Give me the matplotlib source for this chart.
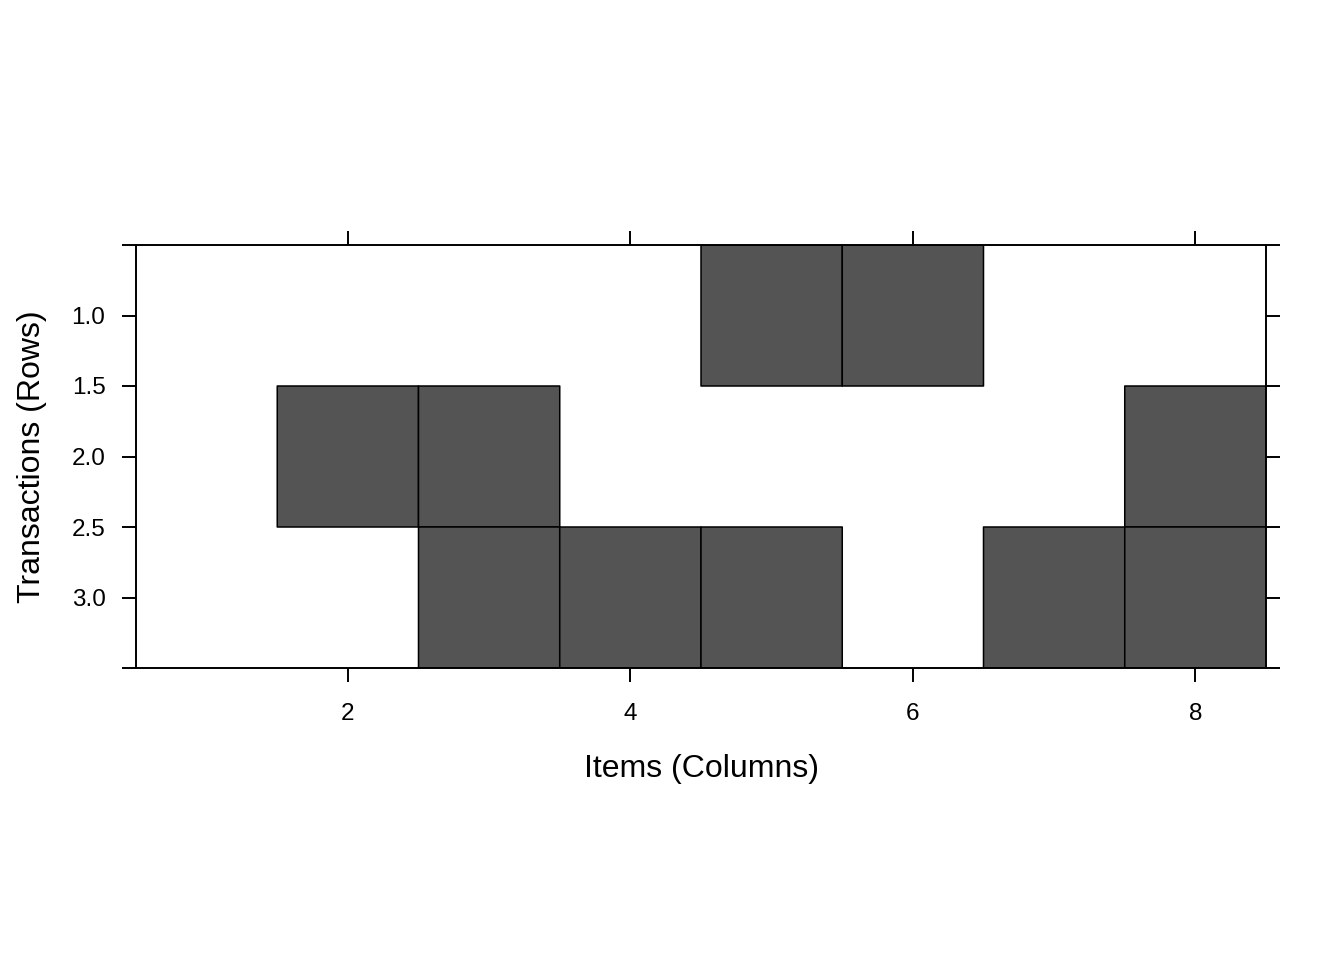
import numpy as np
import matplotlib
matplotlib.use("Agg")
import matplotlib.pyplot as plt

plt.rcParams["font.family"] = ["Liberation Sans", "DejaVu Sans"]

# transactions x items incidence matrix
items = [1, 2, 3, 4, 5, 6, 7, 8]
transactions = [1, 2, 3]
row1 = [0, 0, 0, 0, 1, 1, 0, 0]
row2 = [0, 1, 1, 0, 0, 0, 0, 1]
row3 = [0, 0, 1, 1, 1, 0, 1, 1]

m = np.array([row1, row2, row3], dtype=float)
m = np.ma.masked_equal(m, 0)

xedges = np.append(np.array(items) - 0.5, items[-1] + 0.5)
yedges = np.append(np.array(transactions) - 0.5, transactions[-1] + 0.5)

fig = plt.figure(figsize=(13.44, 9.6), dpi=100)
ax = fig.add_axes([136 / 1344, 1 - 668 / 960, 1130 / 1344, 423 / 960])

ax.pcolor(xedges, yedges, m, cmap=matplotlib.colors.ListedColormap(["#545454"]),
          edgecolors="black", linewidth=1.1)

ax.set_xlim(xedges[0], xedges[-1])
ax.set_ylim(yedges[-1], yedges[0])

ax.set_xticks([2, 4, 6, 8])
ax.set_yticks([0.5, 1.0, 1.5, 2.0, 2.5, 3.0, 3.5])
ax.set_yticklabels(["", "1.0", "1.5", "2.0", "2.5", "3.0", ""])

ax.tick_params(direction="out", length=10, width=1.4, labelsize=17.5, pad=12,
               top=True, right=True, labeltop=False, labelright=False)
ax.tick_params(axis="x", pad=15)
for s in ax.spines.values():
    s.set_linewidth(1.4)

ax.set_xlabel("Items (Columns)", fontsize=23, labelpad=21)
ax.set_ylabel("Transactions (Rows)", fontsize=23, labelpad=18)

fig.savefig("out.png", dpi=100)
